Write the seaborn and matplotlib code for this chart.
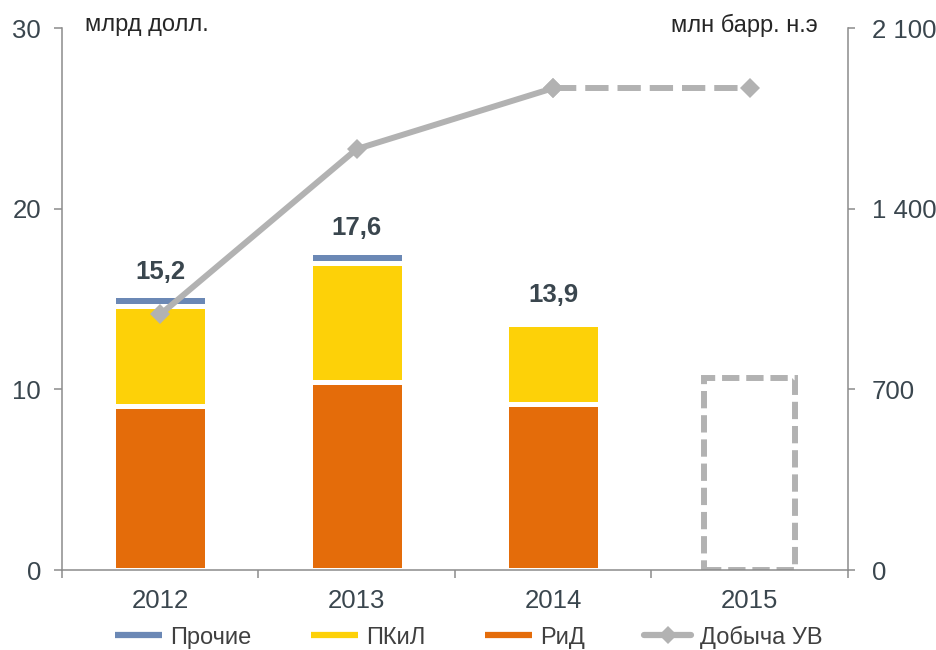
import matplotlib
matplotlib.use("Agg")
import matplotlib.pyplot as plt
from matplotlib.lines import Line2D
import seaborn as sns
import pandas as pd
import numpy as np

# ---- data ----
years = ["2012", "2013", "2014", "2015"]
bar_years = ["2012", "2013", "2014"]
rid = [9.1, 10.4, 9.2]          # РиД
pkil = [5.5, 6.6, 4.4]          # ПКиЛ
other = [0.6, 0.6, 0.0]         # Прочие
totals_label = [15.2, 17.6, 13.9]
plan_2015 = [10.6]
production = [990, 1631, 1867, 1867]   # Добыча УВ, млн барр. н.э

left_ticks = [0, 10, 20, 30]
right_ticks = [0, 700, 1400, 2100]
right_tick_labels = ["0", "700", "1 400", "2 100"]

# ---- style ----
sns.set_theme(style="white")
plt.rcParams["font.family"] = ["Liberation Sans", "DejaVu Sans"]

C_RID = "#E46C0A"
C_PKIL = "#FDD108"
C_OTHER = "#6B88B5"
C_LINE = "#B2B2B2"
C_TEXT = "#3A464E"
C_SPINE = "#8C8C8C"
TICK_FS = 18.5

fig = plt.figure(figsize=(9.37, 6.5), dpi=100)
ax = fig.add_axes([62 / 937, 1 - 570 / 650, (848 - 62) / 937, (570 - 28) / 650])

cum1 = np.array(rid)
cum2 = cum1 + np.array(pkil)
cum3 = cum2 + np.array(other)

df = pd.DataFrame({"year": bar_years, "rid": cum1, "pkil": cum2, "other": cum3})

for col, colr in [("other", C_OTHER), ("pkil", C_PKIL), ("rid", C_RID)]:
    sns.barplot(data=df, x="year", y=col, order=years, color=colr, width=0.48,
                edgecolor="white", linewidth=3.6, saturation=1, ax=ax)

# planned 2015 (dashed empty box)
df15 = pd.DataFrame({"year": ["2015"], "v": plan_2015})
sns.barplot(data=df15, x="year", y="v", order=years, width=0.465, fill=False,
            edgecolor=C_LINE, linewidth=4.3, linestyle=(0, (2.9, 1.15)), ax=ax)
for p in ax.patches[-1:]:
    p.set_facecolor("none")
    p.set_edgecolor(C_LINE)
    p.set_linestyle((0, (2.9, 1.15)))
    p.set_linewidth(4.3)

# total labels
for i, v in enumerate(totals_label):
    ax.annotate(f"{v:.1f}".replace(".", ","), xy=(i, v), xytext=(0, 17),
                textcoords="offset points", ha="center", va="center",
                fontsize=18.5, fontweight="bold", color=C_TEXT)

ax.set_xlim(-0.5, 3.5)
ax.set_ylim(0, 30)
ax.set_yticks(left_ticks)
ax.set_xlabel("")
ax.set_ylabel("")
ax.set_xticks(range(len(years)))
ax.set_xticklabels(years)
ax.set_xticks(np.arange(-0.5, 3.6, 1.0), minor=True)
ax.tick_params(axis="x", which="major", length=0, pad=14, labelsize=TICK_FS, labelcolor=C_TEXT)
ax.tick_params(axis="x", which="minor", length=6, width=1.1, color=C_SPINE, direction="out", bottom=True)
ax.tick_params(axis="y", which="major", length=6, width=1.1, color=C_SPINE, direction="out",
               left=True, pad=9, labelsize=TICK_FS, labelcolor=C_TEXT)
for s in ["left", "bottom"]:
    ax.spines[s].set_color(C_SPINE)
    ax.spines[s].set_linewidth(1.1)
ax.spines["top"].set_visible(False)
ax.spines["right"].set_visible(False)

# production line (right axis)
ax2 = ax.twinx()
xs = np.arange(len(years))
sns.lineplot(x=xs[:3], y=production[:3], ax=ax2, color=C_LINE, linewidth=4.3,
             marker="D", markersize=10.5, markeredgecolor=C_LINE, markerfacecolor=C_LINE,
             markeredgewidth=0)
sns.lineplot(x=xs[2:], y=production[2:], ax=ax2, color=C_LINE, linewidth=4.3,
             linestyle=(0, (3.9, 1.5)), marker="D", markersize=10.5,
             markeredgecolor=C_LINE, markerfacecolor=C_LINE, markeredgewidth=0)
ax2.set_ylim(0, 2100)
ax2.set_xlim(-0.5, 3.5)
ax2.set_yticks(right_ticks)
ax2.set_yticklabels(right_tick_labels)
ax2.set_ylabel("")
ax2.tick_params(axis="y", which="major", length=5, width=1.1, color=C_SPINE, direction="out",
                right=True, pad=12, labelsize=TICK_FS, labelcolor=C_TEXT)
ax2.spines["right"].set_color(C_SPINE)
ax2.spines["right"].set_linewidth(1.1)
for s in ["top", "left", "bottom"]:
    ax2.spines[s].set_visible(False)
ax2.grid(False)
ax.grid(False)

# unit labels
fig.text(85 / 937, 1 - 25 / 650, "млрд долл.", fontsize=17, color="#262626", ha="left", va="center")
fig.text(818 / 937, 1 - 25 / 650, "млн барр. н.э", fontsize=17, color="#262626", ha="right", va="center")

# legend
handles = [
    Line2D([0], [0], color=C_OTHER, lw=4.5, solid_capstyle="butt"),
    Line2D([0], [0], color=C_PKIL, lw=4.5, solid_capstyle="butt"),
    Line2D([0], [0], color=C_RID, lw=4.5, solid_capstyle="butt"),
    Line2D([0], [0], color=C_LINE, lw=4.5, marker="D", markersize=9, markeredgewidth=0,
           solid_capstyle="round"),
]
labels = ["Прочие", "ПКиЛ", "РиД", "Добыча УВ"]
leg = fig.legend(handles, labels, loc="center", bbox_to_anchor=(0.5, 1 - 637 / 650), ncol=4,
                 frameon=False, fontsize=17, handlelength=2.0, handletextpad=0.35,
                 columnspacing=2.5, borderaxespad=0)
for t in leg.get_texts():
    t.set_color("#404040")

fig.savefig("out.png", dpi=100)
